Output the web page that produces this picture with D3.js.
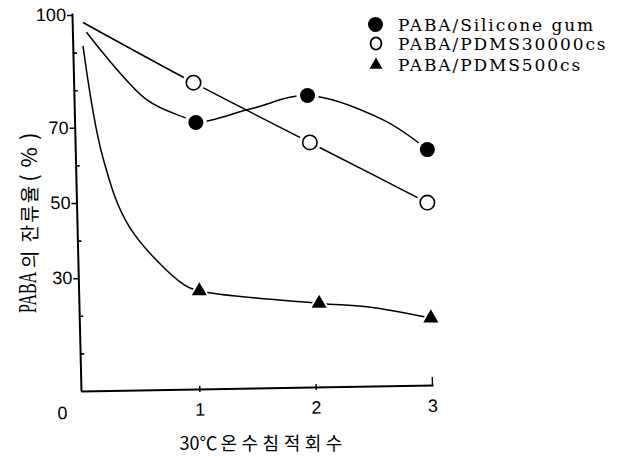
<!DOCTYPE html>
<html><head><meta charset="utf-8">
<script src="https://cdn.jsdelivr.net/npm/d3@7"></script>
<style>body{margin:0;background:#fff}svg{display:block}</style>
</head><body><svg id="c" width="617" height="460"></svg>
<script>
// ---- data ----
const xTickValues = [1, 2, 3];
const yTickLabels = [30, 50, 70, 100];
const yMinorTicks = [10, 20, 40, 60, 80, 90];
const seriesNames = ["PABA/Silicone gum", "PABA/PDMS30000cs", "PABA/PDMS500cs"];
const xTitleA = "30℃";
const xTitleB = "온수침적회수";
const yTitleA = "PABA";
const yTitleB = "의 잔류율";
const yTitleC = "(%)";

// marker points (immersion count, retention %)
const siliconeX = [0.97, 1.93, 2.96], siliconeY = [71.4, 78.6, 64.2];
const pdms30000X = [0.95, 1.95, 2.96], pdms30000Y = [82.0, 66.1, 50.1];
const pdms500X = [1.0, 2.03, 2.99], pdms500Y = [26.6, 23.3, 19.4];

// hand-drawn curve: start near 0 and bend points
const siliconeCurveX = [0.03, 0.55, 0.89, 1.46, 2.58], siliconeCurveY = [95.4, 77.4, 72.5, 75.2, 72.1];
const pdms30000CurveX = [0, 2.55], pdms30000CurveY = [98.0, 56.6];
const pdms500CurveX = [0, 0.17, 0.40, 0.87, 2.44], pdms500CurveY = [91.8, 62.2, 43.6, 28.2, 22.4];

// ---- drawing ----
const svg = d3.select("#c");
const x = d3.scaleLinear().domain([0, 3]).range([83, 432]);
const y = d3.scaleLinear().domain([0, 100]).range([391, 15]);

const zip = (a, b) => a.map((v, i) => [v, b[i]]);
const series = [
  {name: seriesNames[0], type: "filled", pts: zip(siliconeX, siliconeY), curve: zip(siliconeCurveX, siliconeCurveY)},
  {name: seriesNames[1], type: "open", pts: zip(pdms30000X, pdms30000Y), curve: zip(pdms30000CurveX, pdms30000CurveY)},
  {name: seriesNames[2], type: "tri", pts: zip(pdms500X, pdms500Y), curve: zip(pdms500CurveX, pdms500CurveY)}
];

const sans = "'Liberation Sans', Arial, sans-serif";

// Y axis (slightly tilted like the scan)
const yAxisScale = y.copy().domain([0, y.invert(13)]).range([391, 13]);
const tilt = (81 - 72) / (391 - 15);
const gy = svg.append("g")
  .attr("transform", `translate(${81 - tilt * 391},0) skewX(${Math.atan(tilt) * 180 / Math.PI})`);
gy.call(d3.axisLeft(yAxisScale).tickValues(yTickLabels).tickSize(5).tickPadding(1).tickSizeOuter(0));
gy.append("g").call(d3.axisRight(yAxisScale).tickValues(yMinorTicks).tickSize(4).tickFormat("").tickSizeOuter(0))
  .select(".domain").remove();
gy.selectAll(".domain").attr("stroke", "#000").attr("stroke-width", 2);
gy.selectAll(".tick line").attr("stroke", "#000").attr("stroke-width", 1.6);
gy.selectAll(".tick text").attr("font-family", sans).attr("font-size", 18).attr("fill", "#000");

// X axis (slightly tilted)
const xAxisScale = x.copy().domain([x.invert(81), x.invert(433)]).range([81, 433]);
const gx = svg.append("g")
  .attr("transform", `translate(0,${y(0)}) rotate(${-Math.atan(6 / 352) * 180 / Math.PI},${x(0)},0)`);
gx.call(d3.axisBottom(xAxisScale).tickValues(xTickValues).tickFormat(d3.format("d"))
  .tickSize(3).tickPadding(11).tickSizeOuter(0));
gx.selectAll(".domain").attr("stroke", "#000").attr("stroke-width", 2);
gx.selectAll(".tick line").attr("stroke", "#000").attr("stroke-width", 1.4)
  .attr("y1", d => d === 3 ? -8 : -3).attr("y2", d => d === 3 ? 0 : 3);
gx.selectAll(".tick text").attr("font-family", sans).attr("font-size", 18).attr("fill", "#000");
gx.append("text").attr("x", x(0) - 21).attr("y", 15).attr("dy", "0.71em")
  .attr("text-anchor", "middle").attr("font-family", sans).attr("fill", "#000")
  .attr("font-size", 18).text("0");

// curves
const line = d3.line().x(d => x(d[0])).y(d => y(d[1])).curve(d3.curveCatmullRom.alpha(0.5));
series.forEach(s => {
  const pts = s.curve.concat(s.pts).sort((a, b) => a[0] - b[0]);
  svg.append("path").attr("d", line(pts)).attr("fill", "none")
    .attr("stroke", "#000").attr("stroke-width", 1.5);
});

// halos + markers
const triBig = d3.symbol().type(d3.symbolTriangle).size(200);
const tri = d3.symbol().type(d3.symbolTriangle).size(98);
series.forEach(s => {
  const g = svg.append("g");
  s.pts.forEach(p => {
    const cx = x(p[0]), cy = y(p[1]);
    if (s.type === "tri") {
      g.append("path").attr("d", triBig()).attr("transform", `translate(${cx},${cy})`).attr("fill", "#fff");
    } else {
      g.append("circle").attr("cx", cx).attr("cy", cy).attr("r", 11).attr("fill", "#fff");
    }
  });
  s.pts.forEach(p => {
    const cx = x(p[0]), cy = y(p[1]);
    if (s.type === "tri") {
      g.append("path").attr("d", tri()).attr("transform", `translate(${cx},${cy})`).attr("fill", "#000");
    } else if (s.type === "filled") {
      g.append("circle").attr("cx", cx).attr("cy", cy).attr("r", 7.5).attr("fill", "#000");
    } else {
      g.append("circle").attr("cx", cx).attr("cy", cy).attr("r", 7.2).attr("fill", "#fff")
        .attr("stroke", "#000").attr("stroke-width", 1.6);
    }
  });
});

// legend
const legRows = [24.5, 43.5, 65];
const legBase = [31, 50, 71];
const lg = svg.append("g");
series.forEach((s, i) => {
  if (s.type === "filled") lg.append("circle").attr("cx", 375.5).attr("cy", legRows[i]).attr("r", 7.5).attr("fill", "#000");
  else if (s.type === "open") lg.append("ellipse").attr("cx", 376).attr("cy", legRows[i]).attr("rx", 5.4).attr("ry", 6.2)
    .attr("fill", "none").attr("stroke", "#000").attr("stroke-width", 1.8);
  else lg.append("path").attr("d", d3.symbol().type(d3.symbolTriangle).size(72)()).attr("transform", `translate(376,${legRows[i]})`);
  lg.append("text").attr("x", 398).attr("y", legBase[i])
    .attr("font-family", "'DejaVu Serif', serif").attr("font-size", 17).attr("letter-spacing", 1.9)
    .text(s.name);
});

// axis titles
const xt = svg.append("text").attr("x", x(1.5) - 78).attr("y", 450)
  .attr("font-family", "'Noto Sans CJK KR', sans-serif").attr("font-size", 18);
xt.append("tspan").attr("letter-spacing", 0).text(xTitleA);
xt.append("tspan").attr("dx", 3).attr("letter-spacing", 4.5).text(xTitleB);

svg.append("text").attr("transform", "translate(36,313) rotate(-90) scale(1,1.55)")
  .attr("font-family", "'Liberation Serif', serif").attr("font-size", 16).text(yTitleA);
const yt = svg.append("text").attr("transform", "translate(37,268) rotate(-90)")
  .attr("font-family", "'Noto Sans CJK KR', sans-serif").attr("font-size", 19).attr("letter-spacing", 2);
yt.append("tspan").text(yTitleB);
yt.append("tspan").attr("font-size", 22).attr("letter-spacing", 7).attr("dx", 2).text(yTitleC);
</script></body></html>
